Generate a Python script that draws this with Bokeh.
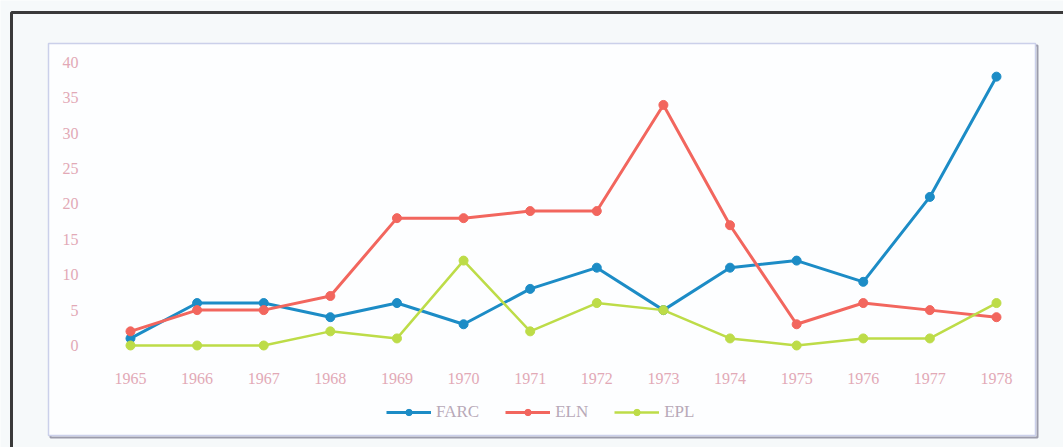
from bokeh.plotting import figure
from bokeh.models import Range1d, BoxAnnotation, Legend, LegendItem
from bokeh.core.properties import value
from bokeh.embed import file_html
from bokeh.resources import INLINE

# Annual counts per armed group
years = [1965, 1966, 1967, 1968, 1969, 1970, 1971, 1972, 1973, 1974, 1975, 1976, 1977, 1978]
farc = [1, 6, 6, 4, 6, 3, 8, 11, 5, 11, 12, 9, 21, 38]
eln = [2, 5, 5, 7, 18, 18, 19, 19, 34, 17, 3, 6, 5, 4]
epl = [0, 0, 0, 2, 1, 12, 2, 6, 5, 1, 0, 1, 1, 6]
x_labels = [str(y) for y in years]
y_ticks = [0, 5, 10, 15, 20, 25, 30, 35, 40]
y_labels = [str(v) for v in y_ticks]

series = [
    ("FARC", farc, "#1c8cc6", 3),
    ("ELN", eln, "#f2665e", 3),
    ("EPL", epl, "#bddc48", 2.5),
]

PAGE = "#f6f9fa"
LABEL = "#e2a9b6"
FONT = "Liberation Serif"

# The plotting frame spans the whole canvas; ranges put 1965..1978 and 0..40
# where the chart panel sits, with the tick labels drawn just outside the data.
p = figure(width=1063, height=447, output_backend="svg", toolbar_location=None,
           x_range=Range1d(1963.0485, 1979.006), y_range=Range1d(-14.417, 48.763),
           x_axis_location=None, y_axis_location=None,
           min_border=0)
p.border_fill_color = PAGE
p.background_fill_color = PAGE
p.outline_line_color = None
p.grid.visible = False

# Outer dark frame and the light chart panel with its soft shadow
def canvas_box(l, r, t, b, **kw):
    return BoxAnnotation(left=l, right=r, top=t, bottom=b,
                         left_units="canvas", right_units="canvas",
                         top_units="canvas", bottom_units="canvas",
                         level="underlay", line_alpha=1.0, **kw)

p.add_layout(canvas_box(11, 1090, 12, 480, fill_color=None,
                        line_color="#3a3a3a", line_width=3))
p.add_layout(canvas_box(50, 1037, 45, 437, fill_color=None,
                        line_color="#9c9cab", line_width=2))
p.add_layout(canvas_box(48, 1035, 43, 435, fill_color="#fdfeff", fill_alpha=1.0,
                        line_color="#cbd0ea", line_width=1.5))

items = []
for name, vals, color, lw in series:
    ln = p.line(years, vals, line_color=color, line_width=lw)
    pt = p.scatter(years, vals, size=9, fill_color=color, line_color=color)
    items.append(LegendItem(label=name, renderers=[ln, pt]))

# Category labels under the zero line and value labels left of the first year
p.text(x=years, y=[0] * len(years), text=x_labels, y_offset=33,
       text_align="center", text_baseline="middle",
       text_font=value(FONT), text_font_size="16px", text_color=LABEL)
p.text(x=[years[0]] * len(y_ticks), y=y_ticks, text=y_labels, x_offset=-52,
       text_align="right", text_baseline="middle",
       text_font=value(FONT), text_font_size="16px", text_color=LABEL)

legend = Legend(items=items, orientation="horizontal", location=(386, 25),
                glyph_width=45, glyph_height=16, label_standoff=5, spacing=26,
                padding=4, margin=0, border_line_color=None,
                background_fill_alpha=0.0,
                label_text_font=FONT, label_text_font_size="17px",
                label_text_color="#b8a9b8")
p.add_layout(legend, "center")

open("out.html", "w").write(file_html(p, INLINE))
